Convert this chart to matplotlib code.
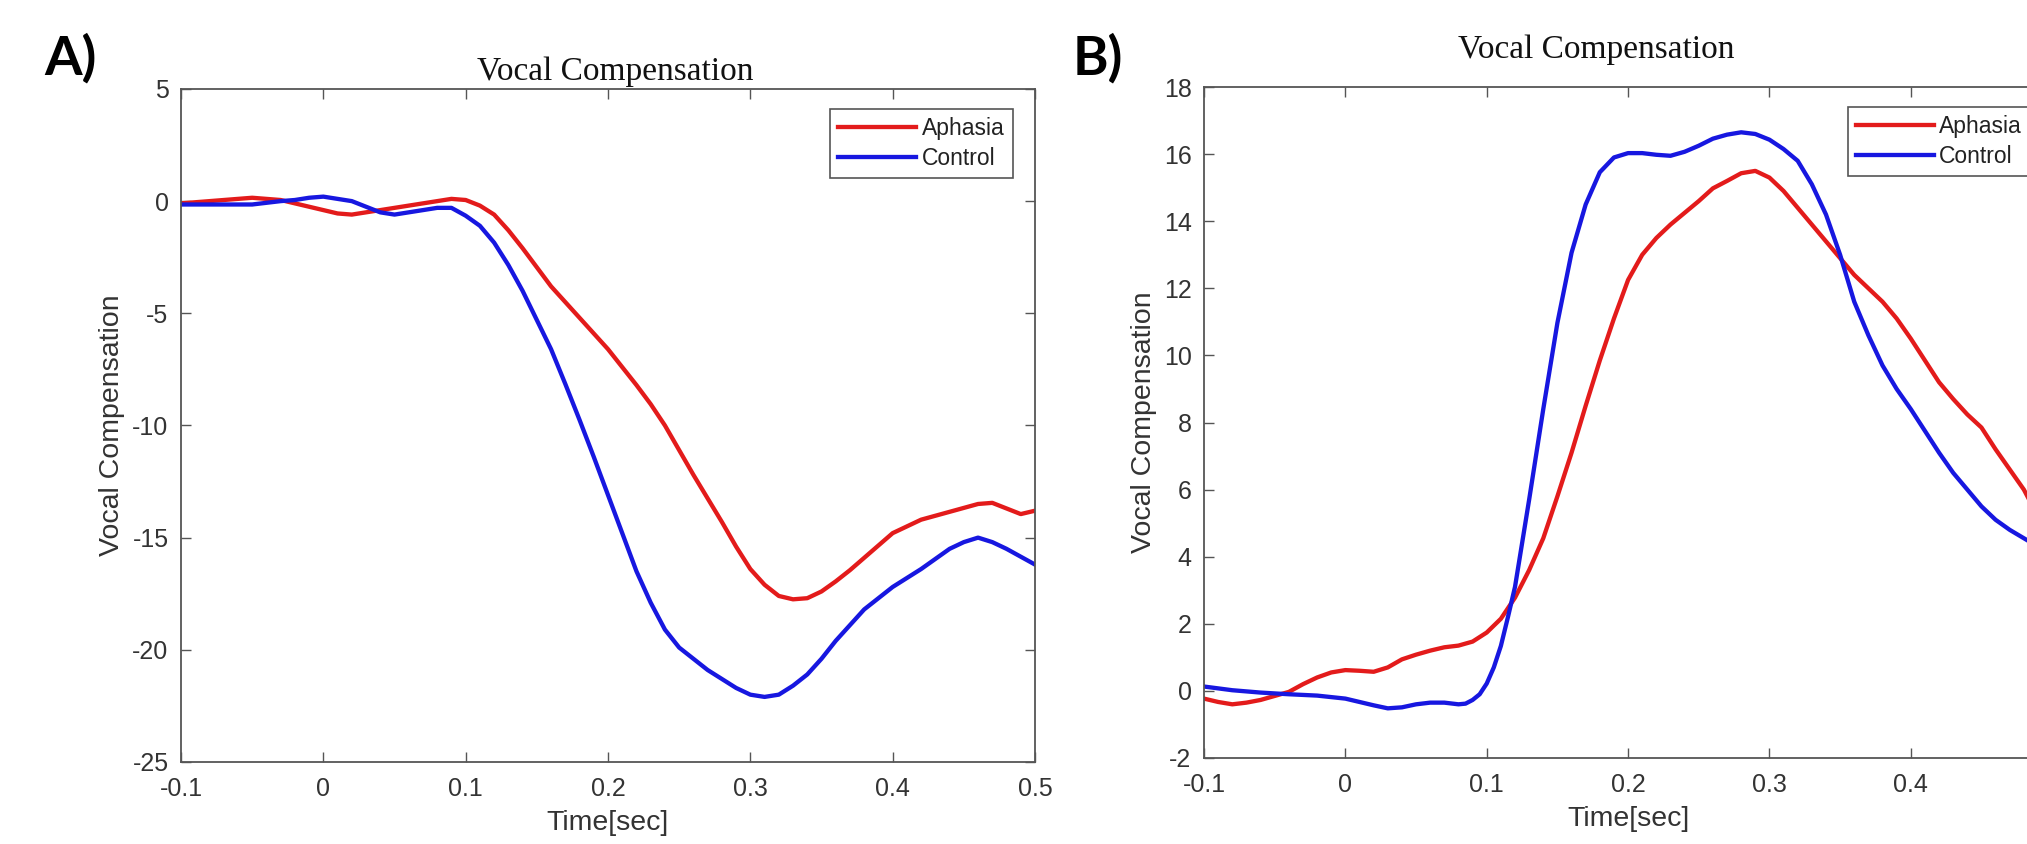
import matplotlib
matplotlib.use("Agg")
import matplotlib.pyplot as plt

plt.rcParams['axes.unicode_minus'] = False
plt.rcParams['font.family'] = ['Liberation Sans', 'DejaVu Sans']

# panel A: pitch shift down
t_a_aph = [-0.1, -0.08, -0.06, -0.05, -0.04, -0.03, -0.02, 0.0, 0.01, 0.02, 0.03, 0.04, 0.05,
           0.06, 0.07, 0.08, 0.09, 0.1, 0.11, 0.12, 0.13, 0.14, 0.15, 0.16, 0.17, 0.18,
           0.19, 0.2, 0.21, 0.22, 0.23, 0.24, 0.25, 0.26, 0.27, 0.28, 0.29, 0.3, 0.31,
           0.32, 0.33, 0.34, 0.35, 0.36, 0.37, 0.38, 0.4, 0.42, 0.44, 0.46, 0.47, 0.48,
           0.49, 0.5]
v_a_aph = [-0.1, 0.0, 0.1, 0.15, 0.1, 0.05, -0.1, -0.4, -0.55, -0.6, -0.5, -0.4, -0.3,
           -0.2, -0.1, 0.0, 0.1, 0.05, -0.2, -0.6, -1.3, -2.1, -2.95, -3.8, -4.5, -5.2,
           -5.9, -6.6, -7.4, -8.2, -9.05, -10.0, -11.1, -12.2, -13.25, -14.3, -15.4, -16.4, -17.1,
           -17.6, -17.75, -17.7, -17.4, -16.95, -16.45, -15.9, -14.8, -14.2, -13.85, -13.5, -13.45, -13.7,
           -13.95, -13.8]

t_a_ctl = [-0.1, -0.08, -0.05, -0.03, -0.02, -0.01, 0.0, 0.01, 0.02, 0.03, 0.04, 0.05, 0.06,
           0.07, 0.08, 0.09, 0.1, 0.11, 0.12, 0.13, 0.14, 0.15, 0.16, 0.17, 0.18, 0.19,
           0.2, 0.21, 0.22, 0.23, 0.24, 0.25, 0.26, 0.27, 0.28, 0.29, 0.3, 0.31, 0.32,
           0.33, 0.34, 0.35, 0.36, 0.37, 0.38, 0.39, 0.4, 0.42, 0.43, 0.44, 0.45, 0.46,
           0.47, 0.48, 0.5]
v_a_ctl = [-0.15, -0.15, -0.15, 0.0, 0.05, 0.15, 0.2, 0.1, 0.0, -0.25, -0.5, -0.6, -0.5,
           -0.4, -0.3, -0.3, -0.65, -1.1, -1.85, -2.85, -4.0, -5.3, -6.6, -8.15, -9.75, -11.4,
           -13.1, -14.8, -16.5, -17.9, -19.1, -19.9, -20.4, -20.9, -21.3, -21.7, -22.0, -22.1, -22.0,
           -21.6, -21.1, -20.4, -19.6, -18.9, -18.2, -17.7, -17.2, -16.4, -15.95, -15.5, -15.2, -15.0,
           -15.2, -15.5, -16.2]

# panel B: pitch shift up
t_b_aph = [-0.1, -0.09, -0.08, -0.07, -0.06, -0.05, -0.04, -0.03, -0.02, -0.01, 0.0, 0.01, 0.02,
           0.03, 0.04, 0.05, 0.06, 0.07, 0.08, 0.09, 0.1, 0.11, 0.12, 0.13, 0.14, 0.15,
           0.16, 0.17, 0.18, 0.19, 0.2, 0.21, 0.22, 0.23, 0.24, 0.25, 0.26, 0.27, 0.28,
           0.29, 0.3, 0.31, 0.32, 0.33, 0.34, 0.35, 0.36, 0.37, 0.38, 0.39, 0.4, 0.41,
           0.42, 0.43, 0.44, 0.45, 0.46, 0.47, 0.48, 0.49, 0.5]
v_b_aph = [-0.23, -0.33, -0.4, -0.35, -0.27, -0.15, -0.03, 0.2, 0.4, 0.55, 0.62, 0.6, 0.57,
           0.7, 0.94, 1.08, 1.2, 1.3, 1.35, 1.47, 1.74, 2.15, 2.78, 3.6, 4.55, 5.8,
           7.1, 8.5, 9.85, 11.1, 12.25, 13.0, 13.5, 13.9, 14.25, 14.6, 14.98, 15.2, 15.43,
           15.5, 15.3, 14.9, 14.4, 13.9, 13.4, 12.9, 12.4, 12.0, 11.6, 11.1, 10.5, 9.85,
           9.2, 8.7, 8.24, 7.85, 7.2, 6.6, 6.0, 5.2, 4.4]

t_b_ctl = [-0.1, -0.08, -0.06, -0.04, -0.02, 0.0, 0.01, 0.02, 0.03, 0.04, 0.05, 0.06, 0.07,
           0.08, 0.085, 0.09, 0.095, 0.1, 0.105, 0.11, 0.115, 0.12, 0.13, 0.14, 0.15, 0.16,
           0.17, 0.18, 0.19, 0.2, 0.21, 0.22, 0.23, 0.24, 0.25, 0.26, 0.27, 0.28, 0.29,
           0.3, 0.31, 0.32, 0.33, 0.34, 0.35, 0.36, 0.37, 0.38, 0.39, 0.4, 0.41, 0.42,
           0.43, 0.44, 0.45, 0.46, 0.47, 0.48, 0.49, 0.5]
v_b_ctl = [0.13, 0.02, -0.05, -0.1, -0.14, -0.23, -0.33, -0.43, -0.52, -0.49, -0.4, -0.35, -0.35,
           -0.4, -0.38, -0.27, -0.1, 0.22, 0.7, 1.34, 2.2, 3.1, 5.7, 8.4, 10.97, 13.06,
           14.5, 15.46, 15.9, 16.03, 16.03, 15.98, 15.95, 16.07, 16.25, 16.46, 16.58, 16.65, 16.6,
           16.43, 16.15, 15.8, 15.1, 14.2, 13.0, 11.6, 10.6, 9.7, 9.0, 8.4, 7.75, 7.1,
           6.5, 6.0, 5.5, 5.1, 4.8, 4.55, 4.3, 4.0]

x_ticks = [-0.1, 0.0, 0.1, 0.2, 0.3, 0.4, 0.5]
x_labels = ['-0.1', '0', '0.1', '0.2', '0.3', '0.4', '0.5']
x_labels_b = ['-0.1', '0', '0.1', '0.2', '0.3', '0.4', '']  # 0.5 falls outside the cropped panel
y_ticks_a = [-25, -20, -15, -10, -5, 0, 5]
y_ticks_b = [-2, 0, 2, 4, 6, 8, 10, 12, 14, 16, 18]

RED = '#e31b1b'
BLUE = '#1717e0'
TXT = '#333333'
EDGE = '#555555'

fig = plt.figure(figsize=(20.27, 8.44), dpi=100)
ax_a = fig.add_axes([0.0893, 0.0972, 0.4213, 0.7974])
ax_b = fig.add_axes([0.594, 0.1019, 0.4184, 0.795])


def style(ax, yticks, xlabels, title_pad, title_x):
    ax.set_xlim(-0.1, 0.5)
    ax.set_ylim(yticks[0], yticks[-1])
    ax.set_xticks(x_ticks)
    ax.set_xticklabels(xlabels)
    ax.set_yticks(yticks)
    ax.set_yticklabels([str(v) for v in yticks])
    ax.tick_params(direction='in', top=True, right=True, length=7, width=1,
                   color=EDGE, labelcolor=TXT, labelsize=18)
    ax.tick_params(axis='x', pad=11)
    ax.tick_params(axis='y', pad=9)
    for s in ax.spines.values():
        s.set_color(EDGE)
        s.set_linewidth(1.3)
    ax.set_title('Vocal Compensation', fontfamily='Liberation Serif', fontsize=24,
                 color='#111111', pad=title_pad, x=title_x)
    ax.set_xlabel('Time[sec]', fontsize=20.5, color=TXT)
    ax.set_ylabel('Vocal Compensation', fontsize=20.5, color=TXT)
    ax.xaxis.set_label_coords(0.5, -0.072)
    leg = ax.legend(loc='upper right', bbox_to_anchor=(0.974, 0.970), borderaxespad=0,
                    fontsize=16.5, fancybox=False, framealpha=1, edgecolor=EDGE,
                    handlelength=3.4, handletextpad=0.25, borderpad=0.35,
                    labelspacing=0.3)
    leg.get_frame().set_linewidth(1.2)
    for txt in leg.get_texts():
        txt.set_color('#222222')


ax_a.plot(t_a_aph, v_a_aph, color=RED, lw=3.1, label='Aphasia', solid_joinstyle='round')
ax_a.plot(t_a_ctl, v_a_ctl, color=BLUE, lw=3.1, label='Control', solid_joinstyle='round')
style(ax_a, y_ticks_a, x_labels, 6.5, 0.508)
ax_a.yaxis.set_label_coords(-0.066, 0.5)

ax_b.plot(t_b_aph, v_b_aph, color=RED, lw=3.1, label='Aphasia', solid_joinstyle='round')
ax_b.plot(t_b_ctl, v_b_ctl, color=BLUE, lw=3.1, label='Control', solid_joinstyle='round')
style(ax_b, y_ticks_b, x_labels_b, 21, 0.463)
ax_b.yaxis.set_label_coords(-0.056, 0.5)

fig.text(44 / 2027, 0.912, 'A)', fontfamily='Lato', fontweight='bold', fontsize=39,
         color='black', va='baseline')
fig.text(1073 / 2027, 0.912, 'B)', fontfamily='Lato', fontweight='bold', fontsize=39,
         color='black', va='baseline')

fig.savefig('out.png', dpi=100)
